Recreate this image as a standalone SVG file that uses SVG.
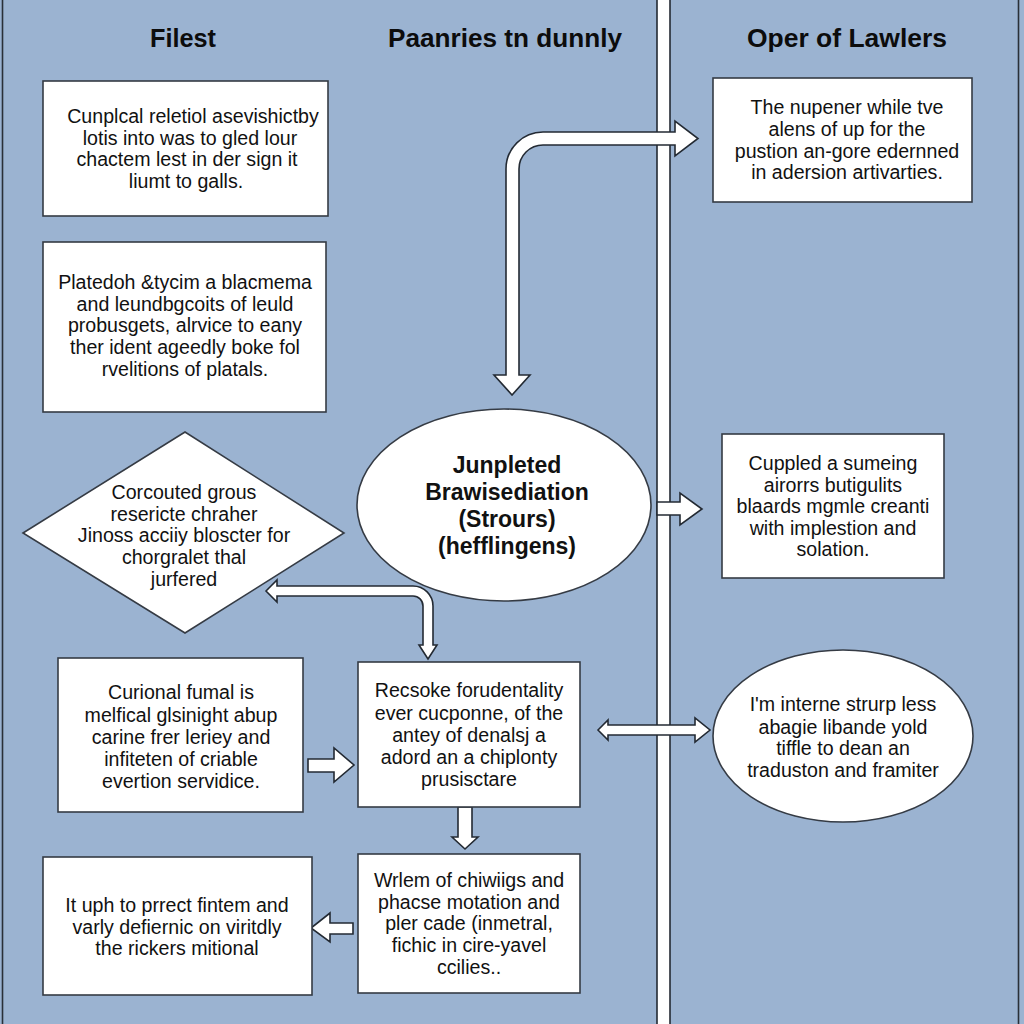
<svg xmlns="http://www.w3.org/2000/svg" width="1024" height="1024" viewBox="0 0 1024 1024">
<style>
.bg{fill:#9bb3d1}
.node{fill:#ffffff;stroke:#353b44;stroke-width:1.6}
.arrow{fill:#ffffff;stroke:#232a33;stroke-width:1.6;stroke-linejoin:miter}
.t{font-family:"Liberation Sans",Arial,sans-serif;font-size:19.6px;fill:#111111;text-anchor:middle}
.tb{font-family:"Liberation Sans",Arial,sans-serif;font-size:23px;font-weight:bold;fill:#111111;text-anchor:middle}
.title{font-family:"Liberation Sans",Arial,sans-serif;font-size:26px;font-weight:bold;fill:#0c0c0c;text-anchor:middle}
</style>
<rect class="bg" x="0" y="0" width="1024" height="1024"/>
<line x1="2.5" y1="0" x2="2.5" y2="1024" stroke="#2a3038" stroke-width="1.6"/>
<line x1="1018.5" y1="0" x2="1018.5" y2="1024" stroke="#2a3038" stroke-width="1.6"/>
<g id="divider">
<rect x="657" y="-2" width="13" height="1030" fill="#ffffff" stroke="#232a33" stroke-width="1.6"/>
</g>
<g id="titles">
<text class="title" x="183" y="47" textLength="66" lengthAdjust="spacingAndGlyphs">Filest</text>
<text class="title" x="505" y="47" textLength="234" lengthAdjust="spacingAndGlyphs">Paanries tn dunnly</text>
<text class="title" x="847" y="47" textLength="200" lengthAdjust="spacingAndGlyphs">Oper of Lawlers</text>
</g>
<g id="connectors">
<path class="arrow" d="M512,395 L494,375 L506,375 L506,169 A37,37 0 0 1 543,132 L675,132 L675,121 L698,138.5 L675,156 L675,145 L543,145 A24,24 0 0 0 519,169 L519,375 L530,375 Z"/>
<path class="arrow" d="M657,502 L680,502 L680,493 L702,509 L680,525 L680,515 L657,515 Z"/>
<path class="arrow" d="M598,730 L608,720 L608,725 L695,725 L695,718 L710,730 L695,742 L695,735 L608,735 L608,740 Z"/>
<path class="arrow" d="M308,759 L334,759 L334,748 L354,765 L334,782 L334,772 L308,772 Z"/>
<path class="arrow" d="M458,807 L458,837 L452,837 L465,849 L478,837 L472,837 L472,807 Z"/>
<path class="arrow" d="M353,923 L330,923 L330,913 L311,928 L330,942 L330,934 L353,934 Z"/>
<path class="arrow" d="M266,591 L277,580 L277,586 L413,586 A20,20 0 0 1 433,606 L433,645 L437,645 L428,659 L419,645 L423,645 L423,606 A10,10 0 0 0 413,596 L277,596 L277,602 Z"/>
</g>
<g id="nodeA">
<rect class="node" x="43" y="81" width="285" height="135"/>
<text class="t" x="193" y="123">Cunplcal reletiol asevishictby</text>
<text class="t" x="190" y="145">lotis into was to gled lour</text>
<text class="t" x="187" y="166">chactem lest in der sign it</text>
<text class="t" x="186" y="188">liumt to galls.</text>
</g>
<g id="nodeB">
<rect class="node" x="43" y="242" width="283" height="170"/>
<text class="t" x="185" y="289">Platedoh &amp;tycim a blacmema</text>
<text class="t" x="185" y="311">and leundbgcoits of leuld</text>
<text class="t" x="185" y="332">probusgets, alrvice to eany</text>
<text class="t" x="185" y="354">ther ident ageedly boke fol</text>
<text class="t" x="185" y="376">rvelitions of platals.</text>
</g>
<g id="nodeDiamond">
<polygon class="node" points="23,533 185,432 344,533 185,633"/>
<text class="t" x="184" y="499">Corcouted grous</text>
<text class="t" x="184" y="521">resericte chraher</text>
<text class="t" x="184" y="542">Jinoss acciiy bloscter for</text>
<text class="t" x="184" y="564">chorgralet thal</text>
<text class="t" x="184" y="586">jurfered</text>
</g>
<g id="nodeC">
<rect class="node" x="58" y="658" width="245" height="154"/>
<text class="t" x="181" y="699">Curional fumal is</text>
<text class="t" x="181" y="722">melfical glsinight abup</text>
<text class="t" x="181" y="744">carine frer leriey and</text>
<text class="t" x="181" y="766">infiteten of criable</text>
<text class="t" x="181" y="788">evertion servidice.</text>
</g>
<g id="nodeF">
<rect class="node" x="43" y="857" width="269" height="138"/>
<text class="t" x="177" y="912">It uph to prrect fintem and</text>
<text class="t" x="177" y="934">varly defiernic on viritdly</text>
<text class="t" x="177" y="955">the rickers mitional</text>
</g>
<g id="nodeD">
<rect class="node" x="358" y="662" width="222" height="145"/>
<text class="t" x="469" y="697">Recsoke forudentality</text>
<text class="t" x="469" y="720">ever cucponne, of the</text>
<text class="t" x="469" y="742">antey of denalsj a</text>
<text class="t" x="469" y="764">adord an a chiplonty</text>
<text class="t" x="469" y="786">prusisctare</text>
</g>
<g id="nodeE">
<rect class="node" x="358" y="854" width="222" height="139"/>
<text class="t" x="469" y="887">Wrlem of chiwiigs and</text>
<text class="t" x="469" y="909">phacse motation and</text>
<text class="t" x="469" y="930">pler cade (inmetral,</text>
<text class="t" x="469" y="952">fichic in cire-yavel</text>
<text class="t" x="469" y="974">ccilies..</text>
</g>
<g id="nodeEllipse">
<ellipse class="node" cx="504" cy="505" rx="147" ry="96"/>
<text class="tb" x="507" y="473">Junpleted</text>
<text class="tb" x="507" y="500">Brawisediation</text>
<text class="tb" x="507" y="527">(Strours)</text>
<text class="tb" x="507" y="554">(hefflingens)</text>
</g>
<g id="nodeG">
<rect class="node" x="713" y="78" width="259" height="124"/>
<text class="t" x="847" y="114">The nupener while tve</text>
<text class="t" x="847" y="136">alens of up for the</text>
<text class="t" x="847" y="158">pustion an-gore edernned</text>
<text class="t" x="847" y="179">in adersion artivarties.</text>
</g>
<g id="nodeH">
<rect class="node" x="722" y="434" width="222" height="144"/>
<text class="t" x="833" y="470">Cuppled a sumeing</text>
<text class="t" x="833" y="492">airorrs butigulits</text>
<text class="t" x="833" y="513">blaards mgmle creanti</text>
<text class="t" x="833" y="535">with implestion and</text>
<text class="t" x="833" y="556">solation.</text>
</g>
<g id="nodeRightEllipse">
<ellipse class="node" cx="843" cy="736" rx="130" ry="86"/>
<text class="t" x="843" y="711">I'm interne strurp less</text>
<text class="t" x="843" y="734">abagie libande yold</text>
<text class="t" x="843" y="755">tiffle to dean an</text>
<text class="t" x="843" y="777">traduston and framiter</text>
</g>
</svg>
